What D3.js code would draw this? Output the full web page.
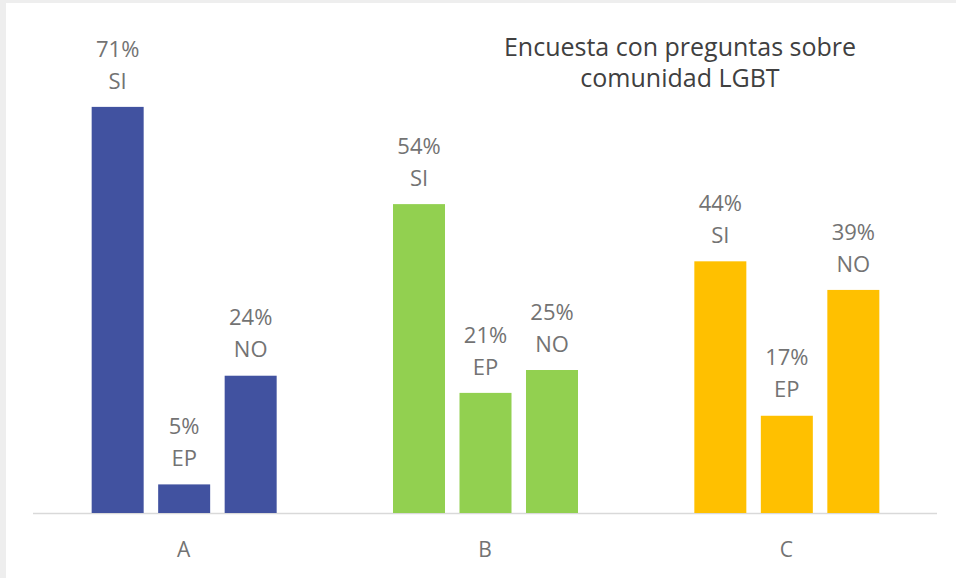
<!DOCTYPE html>
<html>
<head>
<meta charset="utf-8">
<script src="https://cdn.jsdelivr.net/npm/d3@7"></script>
<style>
  html, body { margin: 0; padding: 0; background: #eeeeee; }
  #chart { position: absolute; left: 6px; top: 3px; }
</style>
</head>
<body>
<div id="chart"></div>
<script>
const width = 956;
const height = 578;

// survey data
const groups = ["A", "B", "C"];
const answers = ["SI", "EP", "NO"];
const values = {
  A: [71, 5, 24],
  B: [54, 21, 25],
  C: [44, 17, 39]
};
const colors = { A: "#4152a0", B: "#92d050", C: "#ffc000" };
const titleLines = ["Encuesta con preguntas sobre", "comunidad LGBT"];

const ox = 6, oy = 3;
const svg = d3.select("#chart")
  .append("svg")
    .attr("width", width - ox)
    .attr("height", height - oy)
    .style("display", "block")
    .style("background", "#fff")
    .style("font-family", "'Open Sans', 'Noto Sans', sans-serif");

const g = svg.append("g").attr("transform", `translate(${-ox},${-oy})`);

const x0 = d3.scaleBand()
    .domain(groups)
    .range([33, 937]);

const x1 = d3.scaleBand()
    .domain(answers)
    .range([-92, 93])
    .paddingInner(0.218)
    .paddingOuter(0);

const y = d3.scaleLinear()
    .domain([0, 80])
    .range([513, 513 - 5.72 * 80]);

// axis line
g.append("line")
    .attr("x1", 33).attr("x2", 937)
    .attr("y1", y(0) + 0.5).attr("y2", y(0) + 0.5)
    .attr("stroke", "#d9d9d9")
    .attr("stroke-width", 1.5);

const rows = groups.flatMap(k => answers.map((a, i) => ({ group: k, answer: a, value: values[k][i] })));

const bar = g.append("g")
  .selectAll("g")
  .data(rows)
  .join("g")
    .attr("transform", d => `translate(${x0(d.group) + x0.bandwidth() / 2 + x1(d.answer)},0)`);

bar.append("rect")
    .attr("x", 0)
    .attr("y", d => y(d.value))
    .attr("width", x1.bandwidth())
    .attr("height", d => y(0) - y(d.value))
    .attr("fill", d => colors[d.group]);

const lbl = bar.append("text")
    .attr("text-anchor", "middle")
    .attr("fill", "#737373")
    .style("font-size", "22px");

lbl.append("tspan")
    .attr("x", x1.bandwidth() / 2)
    .attr("y", d => y(d.value) - 58)
    .attr("dy", "0.35em")
    .text(d => d.value + "%");

lbl.append("tspan")
    .attr("x", x1.bandwidth() / 2)
    .attr("y", d => y(d.value) - 26)
    .attr("dy", "0.35em")
    .text(d => d.answer);

// category labels
g.append("g")
  .selectAll("text")
  .data(groups)
  .join("text")
    .attr("x", d => x0(d) + x0.bandwidth() / 2)
    .attr("y", 550)
    .attr("dy", "0.35em")
    .attr("text-anchor", "middle")
    .attr("fill", "#737373")
    .style("font-size", "21px")
    .text(d => d);

// title
g.append("text")
    .attr("text-anchor", "middle")
    .attr("fill", "#404040")
    .style("font-size", "25px")
  .selectAll("tspan")
  .data(titleLines)
  .join("tspan")
    .attr("x", 680)
    .attr("y", (d, i) => 47 + i * 31)
    .attr("dy", "0.35em")
    .text(d => d);
</script>
</body>
</html>
